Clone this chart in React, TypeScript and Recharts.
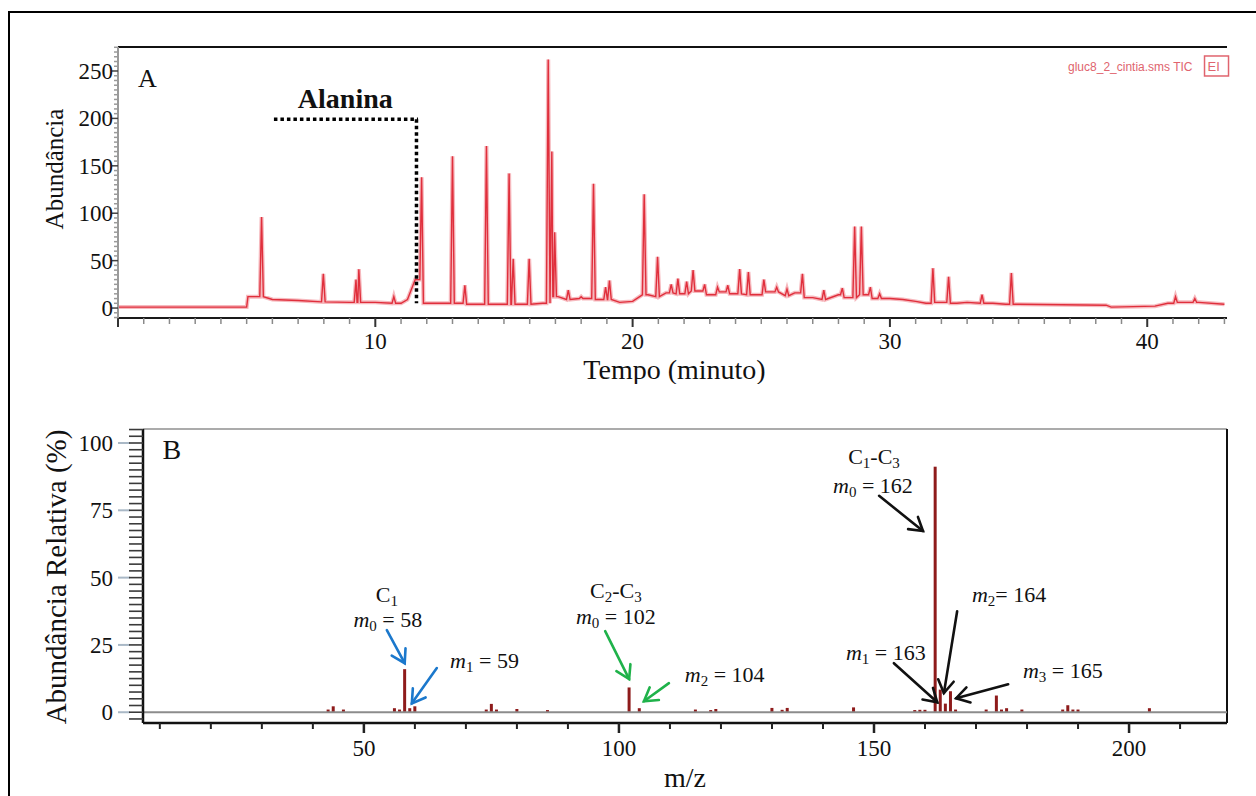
import React from "react";
import {
  Bar,
  BarChart,
  Line,
  LineChart,
  ReferenceDot,
  ReferenceLine,
  XAxis,
  YAxis,
} from "recharts";

const SERIF = '"Liberation Serif", "Times New Roman", Times, serif';

// A - cromatograma (TIC): linha de base (minuto, abundância)
const baseTempo = [
  0, 5.0, 5.05, 5.5, 6, 7, 8, 9, 10, 11,
  11.25, 11.55, 12, 13, 14, 15, 16, 16.5, 17.1, 17.5,
  18, 19, 19.5, 20, 20.6, 21, 21.3, 22, 22.5, 23,
  23.5, 24, 24.8, 25.5, 26, 26.3, 27, 27.5, 28, 28.4,
  29, 29.5, 30, 30.5, 31, 31.4, 32, 32.6, 33, 34,
  34.5, 35, 38.4, 38.6, 40.3, 40.8, 41.4, 42, 43,
];
const baseValor = [
  1, 1, 12, 12, 9, 8, 6.5, 6, 6, 5,
  9, 30, 5, 5, 4, 4, 4, 5, 12, 9,
  10, 9, 6, 7, 14, 12, 16, 15, 18, 14,
  17, 15, 14, 17, 13, 16, 11, 9, 14, 11,
  14, 10, 10, 9, 7, 5, 6, 5, 6, 5,
  4, 4, 3, 1, 2, 5, 6, 6, 4,
];

// picos (tempo de retenção, altura)
const picoTempo = [
  5.58, 7.98, 9.25, 9.36, 10.72, 11.8, 13.0, 13.48, 14.32, 15.2,
  15.36, 15.98, 16.72, 16.86, 16.97, 17.5, 18.0, 18.48, 18.95, 19.1,
  20.45, 20.97, 21.5, 21.76, 22.1, 22.35, 22.8, 23.3, 23.7, 24.16,
  24.5, 25.1, 25.6, 26.0, 26.6, 27.43, 28.15, 28.63, 28.89, 29.24,
  29.6, 31.67, 32.28, 33.58, 34.72, 41.1, 41.85,
];
const picoAltura = [
  96, 36, 30, 41, 12, 138, 160, 24, 171, 142,
  52, 52, 262, 165, 80, 19, 12, 131, 22, 29,
  120, 54, 25, 31, 28, 40, 25, 22, 24, 41,
  38, 30, 22, 20, 36, 19, 21, 86, 86, 22,
  15, 42, 33, 14, 37, 12, 10,
];

// B - espectro de massas
const mz = [
  43, 44, 46, 56, 57, 58, 59, 60, 74, 75,
  76, 80, 86, 102, 104, 115, 118, 119, 130, 132,
  133, 146, 158, 159, 160, 162, 163, 164, 165, 166,
  172, 174, 175, 176, 179, 187, 188, 189, 190, 204,
];
const abundRel = [
  1, 2.2, 1, 1.5, 1, 16, 1.5, 2.2, 1, 3.1,
  1, 1.2, 0.8, 9.2, 1.5, 1, 0.8, 1.2, 1.6, 0.9,
  1.6, 1.8, 0.8, 0.9, 0.9, 91.2, 8.4, 3.2, 7.8, 1,
  1, 6.2, 1, 1.5, 1, 1, 2.6, 1, 1, 1.5,
];

const ticksTempo = Array.from({ length: 44 }, (_, i) => i);
const ticksAbund = Array.from({ length: 58 }, (_, i) => -10 + i * 5);
const ticksDireita = Array.from({ length: 29 }, (_, i) => -10 + i * 10);
const ticksMz = Array.from({ length: 21 }, (_, i) => 10 + i * 10);
const ticksRel = Array.from({ length: 44 }, (_, i) => -2.5 + i * 2.5);

// each peak drawn as a narrow triangle standing on the nearest baseline value
const MEIA = 0.07;
const baseEm = (t: number) => {
  let k = 0;
  baseTempo.forEach((b, i) => {
    if (Math.abs(b - t) < Math.abs(baseTempo[k] - t)) k = i;
  });
  return baseValor[k];
};
const ticData = [
  ...baseTempo
    .map((t, i) => ({ t, v: baseValor[i] }))
    .filter((p) => !picoTempo.some((c) => Math.abs(c - p.t) <= MEIA)),
  ...picoTempo.flatMap((t, i) => [
    { t: t - MEIA, v: baseEm(t - MEIA) },
    { t, v: picoAltura[i] },
    { t: t + MEIA, v: baseEm(t + MEIA) },
  ]),
].sort((a, b) => a.t - b.t);

const espectro = mz.map((m, i) => ({ mz: m, rel: abundRel[i] }));

function TempoTick({ x, y, payload }: any) {
  const v = payload.value;
  const major = v % 10 === 0;
  return (
    <g>
      <line x1={x} y1={y} x2={x} y2={y + (major ? 9 : 6)} stroke={major ? "#333" : "#8a8a8a"} strokeWidth={major ? 2 : 1.5} />
      {major && v > 0 && (
        <text x={x} y={y + 30.5} textAnchor="middle" fontFamily={SERIF} fontSize={23} fill="#111">
          {v}
        </text>
      )}
    </g>
  );
}

function AbundTick({ x, y, payload }: any) {
  const v = payload.value;
  const major = v % 50 === 0;
  return (
    <g>
      <line x1={x - (major ? 6 : 4)} y1={y} x2={x} y2={y} stroke={major ? "#444" : "#9a9a9a"} strokeWidth={1.5} />
      {major && v >= 0 && (
        <text x={x - 5} y={y + 8} textAnchor="end" fontFamily={SERIF} fontSize={23} fill="#111">
          {v}
        </text>
      )}
    </g>
  );
}

function DireitaTick({ x, y, payload }: any) {
  const major = payload.value % 50 === 0;
  return <line x1={x - (major ? 7 : 4)} y1={y} x2={x} y2={y} stroke="#333" strokeWidth={1.5} />;
}

function MzTick({ x, y, payload }: any) {
  const v = payload.value;
  const major = v % 50 === 0;
  return (
    <g>
      <line x1={x} y1={y} x2={x} y2={y + (major ? 10 : 6)} stroke="#222" strokeWidth={major ? 2.5 : 2} />
      {major && (
        <text x={x} y={y + 33} textAnchor="middle" fontFamily={SERIF} fontSize={23} fill="#111">
          {v}
        </text>
      )}
    </g>
  );
}

function RelTick({ x, y, payload }: any) {
  const v = payload.value;
  const major = v % 25 === 0 && v >= 0;
  return (
    <g>
      {major && <line x1={x - 25} y1={y} x2={x - 13} y2={y} stroke="#a9b8c6" strokeWidth={2} />}
      <line x1={x - 14} y1={y} x2={x} y2={y} stroke="#3a3a3a" strokeWidth={1.6} />
      {major && (
        <text x={x - 30} y={y + 8} textAnchor="end" fontFamily={SERIF} fontSize={23} fill="#111">
          {v}
        </text>
      )}
    </g>
  );
}

const TituloTempo = ({ viewBox }: any) => (
  <text x={viewBox.x + viewBox.width / 2 + 2} y={viewBox.y + 61} textAnchor="middle" fontFamily={SERIF} fontSize={28} fill="#111">
    Tempo (minuto)
  </text>
);
const TituloAbund = ({ viewBox }: any) => {
  const x = viewBox.x + 63;
  const y = viewBox.y + 122;
  return (
    <text x={x} y={y} transform={`rotate(-90 ${x} ${y})`} textAnchor="middle" fontFamily={SERIF} fontSize={25} fill="#111">
      Abundância
    </text>
  );
};
const TituloMz = ({ viewBox }: any) => (
  <text x={viewBox.x + viewBox.width / 2} y={viewBox.y + 64} textAnchor="middle" fontFamily={SERIF} fontSize={28} fill="#111">
    m/z
  </text>
);
const TituloRel = ({ viewBox }: any) => {
  const x = viewBox.x + 66;
  const y = viewBox.y + 148;
  return (
    <text x={x} y={y} transform={`rotate(-90 ${x} ${y})`} textAnchor="middle" fontFamily={SERIF} fontSize={29} fill="#111">
      Abundância Relativa (%)
    </text>
  );
};

const texto = (conteudo: React.ReactNode, anchor = "middle", size = 22, weight = "normal") =>
  (p: any) => (
    <text x={p.cx} y={p.cy} textAnchor={anchor} fontFamily={SERIF} fontSize={size} fontWeight={weight} fill="#111" style={{ whiteSpace: "pre" }}>
      {conteudo}
    </text>
  );

const seta = (cor: string) => (p: any) => {
  const { x1, y1, x2, y2 } = p;
  const ang = Math.atan2(y2 - y1, x2 - x1);
  const L = 15;
  const a = 0.55;
  const h1 = `${x2 - L * Math.cos(ang - a)},${y2 - L * Math.sin(ang - a)}`;
  const h2 = `${x2 - L * Math.cos(ang + a)},${y2 - L * Math.sin(ang + a)}`;
  return (
    <g stroke={cor} strokeWidth={2.6} fill="none" strokeLinecap="round" strokeLinejoin="miter">
      <line x1={x1} y1={y1} x2={x2} y2={y2} />
      <polyline points={`${h1} ${x2},${y2} ${h2}`} />
    </g>
  );
};

const S = 15;
const carbono = (a: string, b?: string) => (
  <>
    C<tspan fontSize={S} baselineShift="-4">{a}</tspan>
    {b && (
      <>
        -C<tspan fontSize={S} baselineShift="-4">{b}</tspan>
      </>
    )}
  </>
);
const massa = (k: string, resto: string) => (
  <>
    <tspan fontStyle="italic">m</tspan>
    <tspan fontSize={S} baselineShift="-4">{k}</tspan>
    {resto}
  </>
);

const legenda = (p: any) => (
  <g>
    <text x={p.cx} y={p.cy} textAnchor="end" fontFamily='"Liberation Sans", Arial, sans-serif' fontSize={12} fill="#e0646e">
      gluc8_2_cintia.sms TIC
    </text>
    <rect x={p.cx + 12} y={p.cy - 15} width={24} height={20} fill="#fff" stroke="#e0646e" strokeWidth={1.5} />
    <text x={p.cx + 15} y={p.cy} fontFamily='"Liberation Sans", Arial, sans-serif' fontSize={13} fill="#e0646e">
      EI
    </text>
  </g>
);

const AZUL = "#1b78cc";
const VERDE = "#1fb24a";
const PRETO = "#111";

export default function App() {
  return (
    <div style={{ position: "fixed", left: 0, top: 0, width: 1256, height: 796, overflow: "hidden", background: "#fff" }}>
      <div style={{ position: "absolute", left: 0, top: 0 }}>
        <LineChart width={1256} height={388} data={ticData} margin={{ top: 47, right: 29, left: 0, bottom: 0 }}>
          <XAxis
            dataKey="t"
            type="number"
            domain={[0, 43.1]}
            allowDataOverflow
            ticks={ticksTempo}
            interval={0}
            tickSize={0}
            tickMargin={0}
            tickLine={false}
            tick={(p: any) => <TempoTick {...p} />}
            axisLine={{ stroke: "#1a1a1a", strokeWidth: 2 }}
            height={70}
            label={{ content: TituloTempo }}
          />
          <YAxis
            type="number"
            domain={[-10.5, 275.3]}
            allowDataOverflow
            ticks={ticksAbund}
            interval={0}
            width={118}
            tickSize={0}
            tickMargin={0}
            tickLine={false}
            tick={(p: any) => <AbundTick {...p} />}
            axisLine={{ stroke: "#9a9a9a", strokeWidth: 2 }}
            label={{ content: TituloAbund }}
          />
          <YAxis
            yAxisId="r"
            orientation="right"
            type="number"
            domain={[-10.5, 275.3]}
            allowDataOverflow
            ticks={ticksDireita}
            interval={0}
            width={0}
            tickSize={0}
            tickMargin={0}
            tickLine={false}
            tick={(p: any) => <DireitaTick {...p} />}
            axisLine={{ stroke: "#111", strokeWidth: 2 }}
          />
          <Line yAxisId="r" dataKey="v" type="linear" stroke="#f6b9be" strokeWidth={4} dot={false} activeDot={false} isAnimationActive={false} />
          <Line dataKey="v" type="linear" stroke="#e02f3c" strokeWidth={1.4} dot={false} activeDot={false} isAnimationActive={false} />
          <ReferenceLine y={275.3} stroke="#111" strokeWidth={2} />
          <ReferenceLine segment={[{ x: 6.06, y: 199 }, { x: 11.66, y: 199 }]} stroke="#000" strokeWidth={3.5} strokeDasharray="3.5 3" />
          <ReferenceLine segment={[{ x: 11.6, y: 199 }, { x: 11.6, y: 5 }]} stroke="#000" strokeWidth={3.5} strokeDasharray="3.5 3" />
          <ReferenceDot x={0.78} y={233} r={0} shape={texto("A", "start", 26)} />
          <ReferenceDot x={6.99} y={211} r={0} shape={texto("Alanina", "start", 28, "bold")} />
          <ReferenceDot x={41.76} y={250} r={0} shape={legenda} />
        </LineChart>
      </div>

      <div style={{ position: "absolute", left: 0, top: 384, background: "#fff" }}>
        <BarChart width={1256} height={412} data={espectro} margin={{ top: 45, right: 29, left: 0, bottom: 0 }}>
          <XAxis
            dataKey="mz"
            type="number"
            domain={[6.7, 219.2]}
            allowDataOverflow
            ticks={ticksMz}
            interval={0}
            tickSize={0}
            tickMargin={0}
            tickLine={false}
            tick={(p: any) => <MzTick {...p} />}
            axisLine={{ stroke: "#111", strokeWidth: 2.5 }}
            height={73}
            label={{ content: TituloMz }}
          />
          <YAxis
            type="number"
            domain={[-4, 105.2]}
            allowDataOverflow
            ticks={ticksRel}
            interval={0}
            width={143}
            tickSize={0}
            tickMargin={0}
            tickLine={false}
            tick={(p: any) => <RelTick {...p} />}
            axisLine={{ stroke: "#111", strokeWidth: 2.5 }}
            label={{ content: TituloRel }}
          />
          <ReferenceLine y={105.2} stroke="#ababab" strokeWidth={2} />
          <ReferenceLine x={219.2} stroke="#111" strokeWidth={2} />
          <ReferenceLine y={0} stroke="#8c8c8c" strokeWidth={2} />
          <Bar dataKey="rel" fill="#8e1b1b" barSize={3} isAnimationActive={false} />

          <ReferenceDot x={10.5} y={94} r={0} shape={texto("B", "start", 28)} />

          <ReferenceDot x={54.5} y={40.9} r={0} shape={texto(carbono("1"))} />
          <ReferenceDot x={54.7} y={31.6} r={0} shape={texto(massa("0", " = 58"))} />
          <ReferenceDot x={66.9} y={16.4} r={0} shape={texto(massa("1", " = 59"), "start")} />
          <ReferenceLine segment={[{ x: 54.5, y: 30.5 }, { x: 58.0, y: 18.2 }]} shape={seta(AZUL)} />
          <ReferenceLine segment={[{ x: 64.3, y: 16.4 }, { x: 59.4, y: 3.3 }]} shape={seta(AZUL)} />

          <ReferenceDot x={99.4} y={42.4} r={0} shape={texto(carbono("2", "3"))} />
          <ReferenceDot x={99.4} y={32.7} r={0} shape={texto(massa("0", " = 102"))} />
          <ReferenceDot x={112.9} y={11.2} r={0} shape={texto(massa("2", " = 104"), "start")} />
          <ReferenceLine segment={[{ x: 97.3, y: 30.1 }, { x: 102.0, y: 12.3 }]} shape={seta(VERDE)} />
          <ReferenceLine segment={[{ x: 109.8, y: 10.8 }, { x: 104.9, y: 4.1 }]} shape={seta(VERDE)} />

          <ReferenceDot x={150} y={92.2} r={0} shape={texto(carbono("1", "3"))} />
          <ReferenceDot x={149.8} y={81.6} r={0} shape={texto(massa("0", " = 162"))} />
          <ReferenceDot x={169.2} y={40.9} r={0} shape={texto(massa("2", "= 164"), "start")} />
          <ReferenceDot x={144.5} y={19.3} r={0} shape={texto(massa("1", " = 163"), "start")} />
          <ReferenceDot x={179.2} y={12.6} r={0} shape={texto(massa("3", " = 165"), "start")} />
          <ReferenceLine segment={[{ x: 151, y: 80.4 }, { x: 159.6, y: 67.3 }]} shape={seta(PRETO)} />
          <ReferenceLine segment={[{ x: 166.3, y: 37.5 }, { x: 163.7, y: 7.1 }]} shape={seta(PRETO)} />
          <ReferenceLine segment={[{ x: 153.9, y: 18.2 }, { x: 162.4, y: 3.7 }]} shape={seta(PRETO)} />
          <ReferenceLine segment={[{ x: 176.3, y: 10.4 }, { x: 166.1, y: 5.2 }]} shape={seta(PRETO)} />
        </BarChart>
      </div>

      <div
        style={{
          position: "absolute",
          left: 8,
          top: 11,
          width: 1270,
          height: 800,
          border: "2px solid #000",
          pointerEvents: "none",
        }}
      />
    </div>
  );
}
